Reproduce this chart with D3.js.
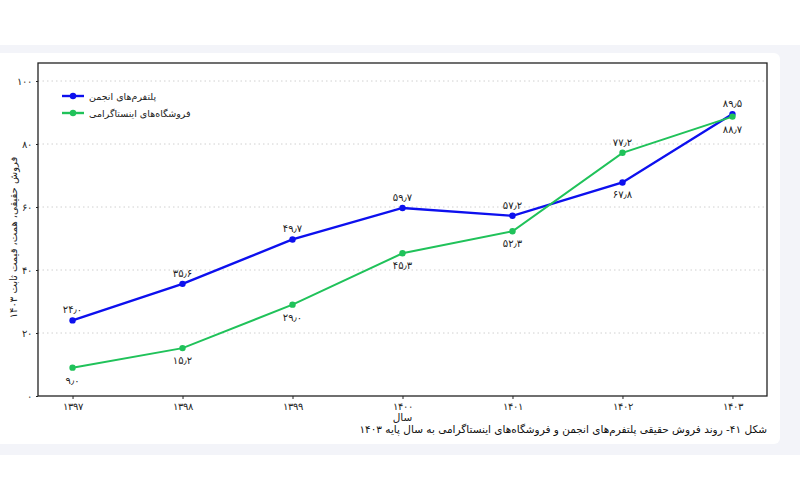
<!DOCTYPE html>
<html lang="fa">
<head>
<meta charset="UTF-8">
<title>روند فروش حقیقی</title>
<script src="https://d3js.org/d3.v7.min.js"></script>
<style>
    body { margin: 0; padding: 0; background: #fff; }
    svg { display: block; font-family: "DejaVu Sans", sans-serif; }
    .grid line { stroke: #d0d0d0; stroke-dasharray: 1.5 3; }
    .axis path { display: none; }
    .axis line { stroke: #222; }
    .axis text { font-size: 10px; fill: #222; }
    .val { font-size: 10px; fill: #222; text-anchor: middle; }
</style>
</head>
<body>
<div id="chart"></div>
<script>
    // data
    const years = [1397, 1398, 1399, 1400, 1401, 1402, 1403];
    const anjoman = [24.0, 35.6, 49.7, 59.7, 57.2, 67.8, 89.5];
    const insta = [9.0, 15.2, 29.0, 45.3, 52.3, 77.2, 88.7];
    const yTicks = [0, 20, 40, 60, 80, 100];
    // label above (-1) or below (1) each point
    const anjomanPos = [-1, -1, -1, -1, -1, 1, -1];
    const instaPos = [1, 1, 1, 1, 1, -1, 1];

    const seriesNames = ["پلتفرم‌های انجمن", "فروشگاه‌های اینستاگرامی"];
    const colors = ["#0d10ee", "#20c25a"];

    const width = 800, height = 500;
    const frame = { left: 38, right: 767, top: 63, bottom: 396 };

    const faDigits = "۰۱۲۳۴۵۶۷۸۹";
    const fa = s => String(s).replace(/\d/g, d => faDigits[+d]);
    const faNum = v => fa(d3.format(".1f")(v)).replace(".", "٫");

    const svg = d3.select("#chart").append("svg")
        .attr("width", width)
        .attr("height", height);

    // page band and white card
    svg.append("rect").attr("x", 0).attr("y", 45).attr("width", width).attr("height", 410).attr("fill", "#f3f4f9");
    svg.append("rect").attr("x", -8).attr("y", 53).attr("width", 788).attr("height", 391).attr("rx", 6).attr("fill", "#fff");

    const x = d3.scalePoint()
        .domain(years)
        .range([frame.left, frame.right])
        .padding(0.314);

    const y = d3.scaleLinear()
        .domain([0, 100])
        .range([frame.bottom, 81]);

    // grid
    svg.append("g")
        .attr("class", "grid")
        .selectAll("line")
        .data(yTicks.filter(d => d > 0))
        .enter().append("line")
        .attr("x1", frame.left)
        .attr("x2", frame.right)
        .attr("y1", d => y(d))
        .attr("y2", d => y(d));

    // axes
    svg.append("g")
        .attr("class", "axis")
        .attr("transform", `translate(${frame.left},0)`)
        .call(d3.axisLeft(y).tickValues(yTicks).tickSize(2).tickPadding(4).tickFormat(fa));

    svg.append("g")
        .attr("class", "axis")
        .attr("transform", `translate(0,${frame.bottom})`)
        .call(d3.axisBottom(x).tickSize(3).tickPadding(4).tickFormat(fa));

    // frame
    svg.append("rect")
        .attr("x", frame.left)
        .attr("y", frame.top)
        .attr("width", frame.right - frame.left)
        .attr("height", frame.bottom - frame.top)
        .attr("fill", "none")
        .attr("stroke", "#222")
        .attr("stroke-width", 1.3);

    const line = d3.line()
        .x((d, i) => x(years[i]))
        .y(d => y(d));

    const series = [
        { values: anjoman, pos: anjomanPos, color: colors[0], w: 2.4 },
        { values: insta, pos: instaPos, color: colors[1], w: 2 }
    ];

    series.forEach(s => {
        svg.append("path")
            .datum(s.values)
            .attr("d", line)
            .attr("fill", "none")
            .attr("stroke", s.color)
            .attr("stroke-width", s.w);

        svg.append("g")
            .selectAll("circle")
            .data(s.values)
            .enter().append("circle")
            .attr("cx", (d, i) => x(years[i]))
            .attr("cy", d => y(d))
            .attr("r", 3.2)
            .attr("fill", s.color);

        svg.append("g")
            .selectAll("text")
            .data(s.values)
            .enter().append("text")
            .attr("class", "val")
            .attr("x", (d, i) => x(years[i]))
            .attr("y", (d, i) => y(d) + (s.pos[i] < 0 ? -7 : 16))
            .text(faNum);
    });

    // legend
    const legend = svg.append("g").attr("transform", "translate(62,96)");
    seriesNames.forEach((name, i) => {
        const g = legend.append("g").attr("transform", `translate(0,${i * 17})`);
        g.append("line").attr("x1", 0).attr("x2", 22).attr("stroke", colors[i]).attr("stroke-width", 2.4);
        g.append("circle").attr("cx", 11).attr("r", 3.2).attr("fill", colors[i]);
        g.append("text")
            .attr("x", 27)
            .attr("y", 3.5)
            .attr("font-size", 9.5)
            .attr("fill", "#222")
            .text(name);
    });

    // axis titles
    svg.append("text")
        .attr("x", x(1400))
        .attr("y", 421)
        .attr("text-anchor", "middle")
        .attr("font-size", 10.5)
        .attr("fill", "#222")
        .text("سال");

    svg.append("text")
        .attr("transform", `translate(17,${(frame.top + frame.bottom) / 2 + 8}) rotate(-90)`)
        .attr("text-anchor", "middle")
        .attr("font-size", 10)
        .attr("fill", "#222")
        .text("فروش حقیقی، همت، قیمت ثابت " + fa(1403));

    // caption
    svg.append("text")
        .attr("x", 767)
        .attr("y", 433)
        .attr("text-anchor", "end")
        .attr("font-size", 10.5)
        .attr("fill", "#111")
        .text("شکل " + fa(41) + "- روند فروش حقیقی پلتفرم‌های انجمن و فروشگاه‌های اینستاگرامی به سال پایه " + fa(1403));
</script>
</body>
</html>
